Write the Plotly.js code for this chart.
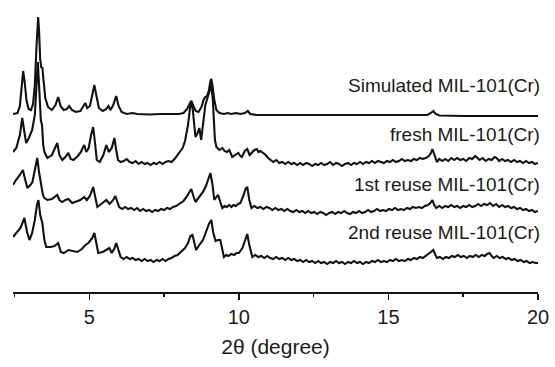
<!DOCTYPE html>
<html>
<head>
<meta charset="utf-8">
<script src="https://cdn.plot.ly/plotly-3.0.1.min.js"></script>
<style>html,body{margin:0;padding:0;background:#fff;}#chart{width:555px;height:367px;}</style>
</head>
<body>
<div id="chart"></div>
<script>
// [2θ (degree), intensity (a.u., offset stacked)]
const simulated = [[2.45,178],[2.6,179],[2.68,186],[2.74,204],[2.79,221],[2.84,210],[2.9,192],[2.97,183],[3.05,182],[3.12,188],[3.18,207],[3.23,242],[3.27,272],[3.29,275],[3.32,262],[3.36,232],[3.4,224],[3.43,225],[3.47,212],[3.53,194],[3.62,185],[3.75,182],[3.87,187],[3.96,195],[4.04,186],[4.14,182],[4.25,183],[4.33,186],[4.42,182],[4.55,180],[4.7,181],[4.8,185],[4.87,189],[4.93,184],[5.02,186],[5.1,197],[5.17,207],[5.24,196],[5.32,184],[5.45,181],[5.57,183],[5.64,186],[5.71,182],[5.8,187],[5.9,196],[5.98,186],[6.08,180],[6.25,178],[6.45,179],[6.6,178],[7.0,177.5],[7.4,178],[7.8,178],[8.0,178],[8.15,179],[8.27,183],[8.35,188],[8.41,191],[8.48,186],[8.56,181],[8.65,180],[8.75,185],[8.83,193],[8.88,195],[8.94,196],[9.0,202],[9.05,211],[9.08,213],[9.12,206],[9.18,192],[9.25,182],[9.35,179],[9.5,178],[9.62,179],[9.75,178],[9.9,179],[10.05,178],[10.2,179],[10.3,181],[10.38,178],[10.6,177],[11,177],[11.5,177],[12,177],[13,177],[14,176.5],[15,176.5],[16,176.5],[16.3,177],[16.42,179],[16.5,181],[16.58,178],[16.7,176.5],[17.5,176],[18.5,176],[19.5,176],[20,176]];

const fresh = [[2.45,140],[2.56,144],[2.68,157],[2.76,174],[2.82,162],[2.89,149],[2.98,154],[3.09,162],[3.18,177],[3.24,212],[3.28,230],[3.33,202],[3.38,172],[3.42,167],[3.46,147],[3.5,140],[3.6,134],[3.75,137],[3.86,144],[3.93,149],[4.0,137],[4.1,132],[4.2,135],[4.3,139],[4.38,133],[4.47,132],[4.62,136],[4.72,140],[4.78,144],[4.83,147],[4.9,140],[4.98,144],[5.06,157],[5.13,165],[5.2,147],[5.25,132],[5.35,130],[5.47,137],[5.57,147],[5.65,140],[5.75,144],[5.84,154],[5.9,142],[5.96,132],[6.05,130],[6.15,131],[6.25,133],[6.35,130],[6.45,129],[6.55,131],[6.65,128],[6.75,130],[6.85,128],[6.95,129],[7.05,127],[7.15,129],[7.25,128],[7.35,130],[7.45,128],[7.55,130],[7.65,131],[7.75,130],[7.85,133],[7.95,137],[8.05,142],[8.12,144],[8.2,151],[8.3,167],[8.38,187],[8.41,191],[8.46,182],[8.55,155],[8.62,159],[8.68,164],[8.74,152],[8.8,167],[8.88,187],[8.95,194],[9.03,204],[9.08,207],[9.13,192],[9.2,152],[9.25,145],[9.35,142],[9.45,144],[9.52,141],[9.6,140],[9.68,142],[9.78,135],[9.88,137],[9.98,139],[10.05,136],[10.1,135],[10.2,141],[10.28,143],[10.36,137],[10.45,140],[10.52,142],[10.6,143],[10.66,140],[10.72,141],[10.8,139],[10.9,137],[10.98,134],[11.05,132],[11.15,130],[11.25,132],[11.35,129],[11.45,130],[11.55,128],[11.65,130],[11.75,128],[11.85,129],[11.95,127],[12.05,129],[12.15,127],[12.25,129],[12.35,128],[12.45,126],[12.55,128],[12.65,127],[12.75,129],[12.85,127],[12.95,128],[13.05,130],[13.15,127],[13.25,129],[13.35,128],[13.45,126],[13.55,128],[13.65,129],[13.75,127],[13.85,129],[13.95,128],[14.05,130],[14.15,128],[14.25,130],[14.35,129],[14.45,131],[14.55,129],[14.65,131],[14.75,130],[14.85,129],[14.95,131],[15.05,130],[15.15,132],[15.25,130],[15.35,131],[15.45,133],[15.55,131],[15.65,132],[15.75,131],[15.85,133],[15.95,132],[16.05,134],[16.15,133],[16.25,134],[16.35,136],[16.42,139],[16.47,143],[16.55,135],[16.62,130],[16.7,133],[16.8,131],[16.9,133],[17.0,131],[17.1,134],[17.2,132],[17.3,134],[17.4,132],[17.5,133],[17.6,131],[17.7,134],[17.8,133],[17.9,136],[17.97,134],[18.05,132],[18.15,134],[18.25,131],[18.35,133],[18.45,132],[18.55,135],[18.62,134],[18.7,131],[18.8,133],[18.9,131],[19.0,132],[19.1,130],[19.2,132],[19.3,130],[19.4,131],[19.5,129],[19.6,131],[19.7,129],[19.8,130],[19.9,128],[20,129]];

const reuse1 = [[2.45,107],[2.55,112],[2.68,117],[2.78,122],[2.86,112],[2.93,104],[3.03,107],[3.1,110],[3.18,122],[3.26,134],[3.32,120],[3.38,110],[3.45,97],[3.5,94],[3.6,92],[3.75,93],[3.86,96],[3.93,97],[4.0,92],[4.1,90],[4.2,92],[4.3,93],[4.43,89],[4.55,90],[4.7,92],[4.83,95],[4.92,92],[5.02,96],[5.13,105],[5.22,92],[5.27,85],[5.4,88],[5.57,92],[5.68,88],[5.8,92],[5.87,96],[5.95,89],[6.0,85],[6.1,83],[6.2,85],[6.3,83],[6.4,84],[6.5,82],[6.6,84],[6.7,81],[6.8,83],[6.9,81],[7.0,82],[7.1,80],[7.2,82],[7.3,81],[7.4,83],[7.5,82],[7.6,84],[7.7,83],[7.8,85],[7.9,86],[8.0,88],[8.08,90],[8.15,91],[8.25,95],[8.35,101],[8.41,103],[8.48,96],[8.55,90],[8.65,94],[8.8,100],[8.9,106],[8.98,114],[9.05,119],[9.12,107],[9.18,92],[9.25,95],[9.31,97],[9.38,90],[9.45,84],[9.52,86],[9.6,85],[9.68,87],[9.75,85],[9.82,87],[9.9,86],[9.98,88],[10.05,89],[10.15,96],[10.22,103],[10.28,105],[10.35,92],[10.42,84],[10.52,86],[10.62,84],[10.72,85],[10.82,83],[10.92,85],[11.02,84],[11.12,82],[11.22,84],[11.32,82],[11.42,83],[11.52,81],[11.62,83],[11.72,81],[11.82,80],[11.92,82],[12.02,80],[12.12,81],[12.22,79],[12.32,81],[12.42,79],[12.52,80],[12.62,78],[12.72,80],[12.82,79],[12.92,77],[13.02,79],[13.12,80],[13.22,78],[13.32,80],[13.42,79],[13.52,81],[13.62,79],[13.72,78],[13.82,80],[13.92,79],[14.02,81],[14.12,79],[14.22,80],[14.32,82],[14.42,80],[14.52,81],[14.62,83],[14.72,81],[14.82,82],[14.92,81],[15.02,83],[15.12,82],[15.22,84],[15.32,82],[15.42,83],[15.52,82],[15.62,84],[15.72,83],[15.82,85],[15.92,84],[16.02,85],[16.12,84],[16.22,86],[16.32,87],[16.4,89],[16.47,92],[16.53,87],[16.6,84],[16.7,86],[16.8,84],[16.9,86],[17.0,85],[17.1,87],[17.2,85],[17.3,86],[17.4,84],[17.5,86],[17.6,85],[17.7,87],[17.8,85],[17.9,86],[18.0,88],[18.1,86],[18.2,88],[18.3,87],[18.4,89],[18.5,86],[18.6,88],[18.7,85],[18.8,87],[18.9,85],[19.0,86],[19.1,84],[19.2,85],[19.3,83],[19.4,84],[19.5,82],[19.6,83],[19.7,81],[19.8,82],[19.9,80],[20,81]];

const reuse2 = [[2.45,55],[2.56,59],[2.7,64],[2.83,74],[2.92,60],[3.0,52],[3.09,59],[3.18,72],[3.25,87],[3.3,92],[3.36,77],[3.43,69],[3.5,52],[3.56,45],[3.7,45],[3.84,46],[3.96,49],[4.05,40],[4.15,39],[4.3,42],[4.45,41],[4.6,40],[4.75,43],[4.87,47],[4.97,49],[5.1,54],[5.17,59],[5.25,44],[5.3,39],[5.45,40],[5.55,42],[5.67,44],[5.75,39],[5.83,43],[5.9,49],[5.98,40],[6.05,35],[6.15,33],[6.25,35],[6.35,33],[6.45,34],[6.55,32],[6.65,33],[6.75,31],[6.85,33],[6.95,31],[7.05,32],[7.15,30],[7.25,32],[7.35,31],[7.45,33],[7.55,31],[7.65,33],[7.75,34],[7.85,36],[7.95,37],[8.05,40],[8.12,42],[8.2,44],[8.3,49],[8.38,56],[8.45,57],[8.52,47],[8.57,42],[8.7,48],[8.8,52],[8.9,60],[9.0,68],[9.08,72],[9.14,60],[9.22,51],[9.3,52],[9.38,52],[9.44,42],[9.5,35],[9.58,37],[9.65,36],[9.75,38],[9.85,37],[9.92,39],[10.0,39],[10.12,44],[10.2,52],[10.28,58],[10.35,47],[10.45,35],[10.55,37],[10.65,35],[10.75,36],[10.85,34],[10.95,36],[11.05,34],[11.15,33],[11.25,35],[11.35,33],[11.45,34],[11.55,32],[11.65,34],[11.75,32],[11.85,33],[11.95,31],[12.05,32],[12.15,30],[12.25,32],[12.35,30],[12.45,31],[12.55,29],[12.65,31],[12.75,29],[12.85,30],[12.95,28],[13.05,30],[13.15,29],[13.25,31],[13.35,29],[13.45,30],[13.55,28],[13.65,30],[13.75,29],[13.85,31],[13.95,29],[14.05,30],[14.15,28],[14.25,30],[14.35,29],[14.45,31],[14.55,30],[14.65,32],[14.75,30],[14.85,31],[14.95,30],[15.05,32],[15.15,31],[15.25,33],[15.35,31],[15.45,32],[15.55,31],[15.65,33],[15.75,32],[15.85,34],[15.95,33],[16.05,35],[16.15,34],[16.25,36],[16.35,38],[16.42,40],[16.5,42],[16.56,37],[16.62,34],[16.72,35],[16.82,33],[16.92,35],[17.02,34],[17.12,36],[17.22,35],[17.32,37],[17.42,35],[17.52,36],[17.62,34],[17.72,36],[17.82,35],[17.92,37],[18.02,35],[18.12,37],[18.22,36],[18.3,38],[18.38,39],[18.45,36],[18.52,34],[18.62,36],[18.72,34],[18.82,35],[18.92,33],[19.02,34],[19.12,32],[19.22,33],[19.32,31],[19.42,32],[19.52,30],[19.62,31],[19.72,29],[19.82,30],[19.92,29],[20,29]];

const seriesNames = ["Simulated MIL-101(Cr)", "fresh MIL-101(Cr)", "1st reuse MIL-101(Cr)", "2nd reuse MIL-101(Cr)"];
const labelY = [207, 158, 108, 60];
const tickVals = [5, 10, 15, 20];
const tickText = ["5", "10", "15", "20"];
const minorTickVals = [2.5, 7.5, 12.5, 17.5];

const allSeries = [simulated, fresh, reuse1, reuse2];
const FONT = "Liberation Sans, Arial, sans-serif";
const xRange = [2.45, 20];

const traces = allSeries.map((s, i) => ({
  type: "scatter", mode: "lines", name: seriesNames[i],
  x: s.map(p => p[0]), y: s.map(p => p[1]),
  line: {color: "#111", width: 2.1},
  hoverinfo: "skip", showlegend: false
}));

// label right edge slightly beyond the end of the axis (as in the figure)
const labelRightX = 20.12;
const annotations = seriesNames.map((t, i) => ({
  text: t, x: (labelRightX - xRange[0]) / (xRange[1] - xRange[0]), y: labelY[i],
  xref: "paper", yref: "y",
  xanchor: "right", yanchor: "middle", showarrow: false,
  font: {family: FONT, size: 19, color: "#1a1a1a"}
}));

const layout = {
  width: 555, height: 367,
  margin: {l: 13, r: 17, t: 10, b: 75},
  paper_bgcolor: "#fff", plot_bgcolor: "#fff",
  showlegend: false,
  xaxis: {
    range: xRange, showgrid: false, zeroline: false,
    showline: true, linecolor: "#111", linewidth: 1.5,
    ticks: "outside", ticklen: 6, tickwidth: 1.5, tickcolor: "#111",
    tickmode: "array", tickvals: tickVals, ticktext: tickText,
    tickfont: {family: FONT, size: 20, color: "#1a1a1a"},
    minor: {tickmode: "array", tickvals: minorTickVals, ticks: "outside", ticklen: 3, tickwidth: 1.5, tickcolor: "#111", showgrid: false},
    title: {text: "2θ (degree)", font: {family: FONT, size: 21, color: "#1a1a1a"}, standoff: 13}
  },
  yaxis: {visible: false, range: [0, 282], fixedrange: true},
  annotations: annotations
};

Plotly.newPlot("chart", traces, layout, {staticPlot: true, displayModeBar: false});
</script>
</body>
</html>
